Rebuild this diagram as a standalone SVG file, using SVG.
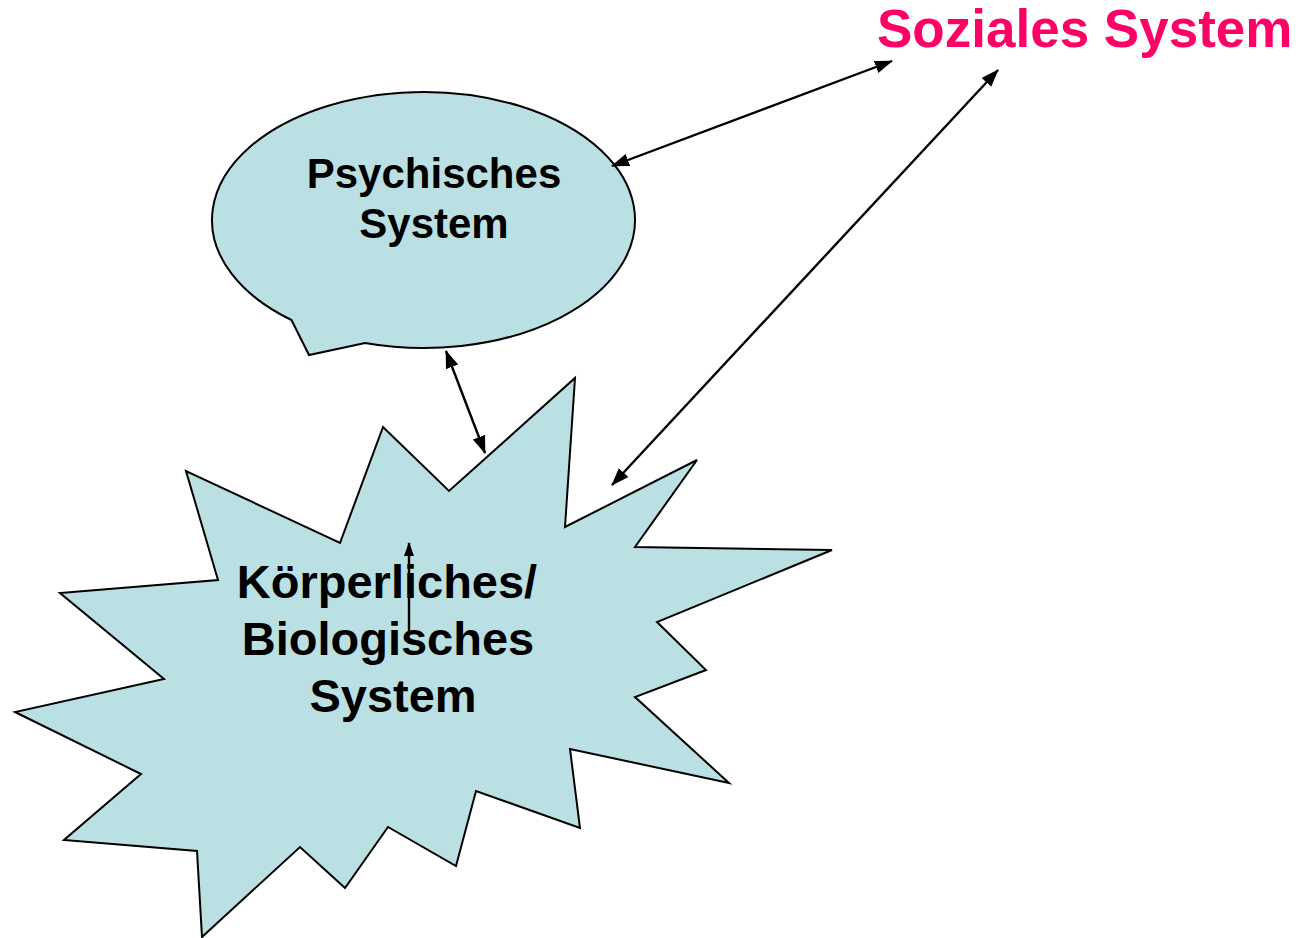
<svg xmlns="http://www.w3.org/2000/svg" width="1306" height="938" viewBox="0 0 1306 938">
<style>
.shape{fill:#BBE0E3;stroke:#000;stroke-width:2;stroke-linejoin:miter}
.lbl{font-family:"Liberation Sans",Arial,sans-serif;font-weight:bold;fill:#000;text-anchor:middle}
.conn{stroke:#000;stroke-width:2.4;fill:none}
</style>
<defs>
<marker id="ah" markerUnits="userSpaceOnUse" markerWidth="20" markerHeight="16" refX="17" refY="6.5" orient="auto-start-reverse" viewBox="0 0 20 16">
<path d="M0,0 L18,6.5 L0,13 Z" fill="#000"/>
</marker>
<marker id="ahs" markerUnits="userSpaceOnUse" markerWidth="14" markerHeight="12" refX="13" refY="5" orient="auto-start-reverse" viewBox="0 0 14 12">
<path d="M0,0 L14,5 L0,10 Z" fill="#000"/>
</marker>
</defs>
<rect width="1306" height="938" fill="#fff"/>
<g id="koerper">
<polygon class="shape" points="575,378 565,527 697,460 635,547 832,550 657,622 706,670 635,697 729,783 570,749 580,828 476,791 456,866 388,827 345,888 300,847 202,937 197,851 64,840 141,774 15,712 164,679 60,593 218,580 186,471 340,543 383,427 449,491"/>
<text class="lbl" font-size="47" x="387" y="598">Körperliches/</text>
<text class="lbl" font-size="47" x="388" y="655">Biologisches</text>
<text class="lbl" font-size="47" x="393" y="712">System</text>
</g>
<g id="psychisch">
<path class="shape" d="M365,343 A211.5,128 0 1 0 291.5,320 L309,355 Z"/>
<text class="lbl" font-size="42" x="434" y="188">Psychisches</text>
<text class="lbl" font-size="42" x="434" y="238">System</text>
</g>
<g id="sozial">
<text font-family="'Liberation Sans',Arial,sans-serif" font-weight="bold" font-size="53" fill="#FF0066" x="877" y="47">Soziales System</text>
</g>
<g id="connectors">
<line class="conn" x1="612" y1="166" x2="892" y2="61" marker-start="url(#ah)" marker-end="url(#ah)"/>
<line class="conn" x1="612" y1="485" x2="998" y2="70" marker-start="url(#ah)" marker-end="url(#ah)"/>
<line class="conn" x1="446" y1="351" x2="485" y2="453" marker-start="url(#ah)" marker-end="url(#ah)"/>
<line class="conn" stroke-width="1.6" x1="409" y1="633" x2="409" y2="543" marker-end="url(#ahs)"/>
</g>
</svg>
